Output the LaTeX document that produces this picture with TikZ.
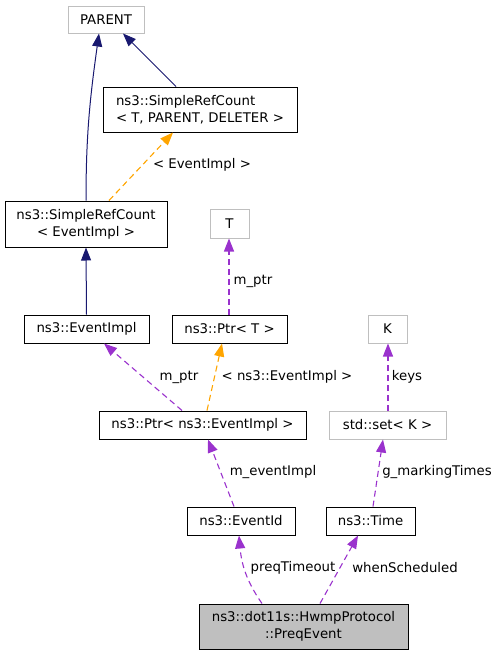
\documentclass[tikz,border=0pt]{standalone}
\usepackage{fontspec}
\setmainfont{DejaVu Sans}
\usetikzlibrary{arrows.meta,positioning}

\definecolor{inhblue}{HTML}{191970}
\definecolor{tmplorange}{HTML}{FFA500}
\definecolor{usepurple}{HTML}{9A32CD}
\definecolor{boxgray}{HTML}{BFBFBF}

\tikzset{
  cls/.style={draw=black, line width=1pt, inner sep=0pt, align=center,
    font=\fontsize{13.3}{17}\selectfont},
  extcls/.style={cls, draw=boxgray},
  lbl/.style={inner sep=0pt, font=\fontsize{13.3}{17}\selectfont},
  inherit/.style={draw=inhblue, line width=1pt,
    -{Triangle[length=13pt,width=10pt]}, inhblue},
  tmpl/.style={draw=tmplorange, line width=1.1pt, dash pattern=on 6pt off 4pt,
    -{Triangle[length=13pt,width=10pt]}, tmplorange},
  usage/.style={draw=usepurple, line width=1.1pt, dash pattern=on 6pt off 4pt,
    -{Triangle[length=13pt,width=10pt]}, usepurple},
}

\begin{document}
\begin{tikzpicture}[x=1pt,y=-1pt]
        \useasboundingbox (0,0) rectangle (497,656);
        % classes
        \node [extcls, minimum width=76, minimum height=27] (parent) at (106,19.5) {PARENT};
        \node [cls, align=left, minimum width=194, minimum height=45] (srcT) at (200,109.5) {ns3::SimpleRefCount\\< T, PARENT, DELETER >};
        \node [cls, minimum width=162, minimum height=46] (srcE) at (86,224) {ns3::SimpleRefCount\\< EventImpl >};
        \node [extcls, minimum width=39, minimum height=29] (tnode) at (229.5,223.5) {T};
        \node [cls, minimum width=125, minimum height=28] (evimpl) at (86.5,329) {ns3::EventImpl};
        \node [cls, minimum width=115, minimum height=28] (ptrT) at (229.5,329) {ns3::Ptr< T >};
        \node [extcls, minimum width=39, minimum height=28] (knode) at (387.5,329) {K};
        \node [cls, minimum width=207, minimum height=28] (ptrE) at (202.5,425) {ns3::Ptr< ns3::EventImpl >};
        \node [extcls, minimum width=117, minimum height=28] (setK) at (387.5,425) {std::set< K >};
        \node [cls, minimum width=108, minimum height=28] (evid) at (241,521) {ns3::EventId};
        \node [cls, minimum width=89, minimum height=28] (time) at (370.5,521) {ns3::Time};
        \node [cls, fill=boxgray, minimum width=209, minimum height=45] (preq) at (303.5,626.5) {ns3::dot11s::HwmpProtocol\\::PreqEvent};
        % inheritance
        \draw [inherit] (srcE.north) to[out=90,in=-98] ([xshift=-7]parent.south);
        \draw [inherit] ([xshift=-24]srcT.north) -- ([xshift=17]parent.south);
        \draw [inherit] (evimpl.north) -- (srcE.south);
        % template instances
        \draw [tmpl] ([xshift=23]srcE.north) -- ([xshift=-27]srcT.south);
        \node [lbl] (lblEI) at (202,165) {< EventImpl >};
        \draw [tmpl] ([xshift=4.5]ptrE.north) -- ([xshift=-7.5]ptrT.south);
        \node [lbl] (lblNsEI) at (287,377) {< ns3::EventImpl >};
        % members
        \draw [usage] ([xshift=-0.5]ptrT.north) -- ([xshift=-0.5]tnode.south);
        \node [lbl] (lblPtrT) at (253,281) {m\_ptr};
        \draw [usage] ([xshift=-20.5]ptrE.north) -- ([xshift=17.5]evimpl.south);
        \node [lbl] (lblPtrE) at (179,377) {m\_ptr};
        \draw [usage] ([xshift=0.5]setK.north) -- ([xshift=0.5]knode.south);
        \node [lbl] (lblKeys) at (407,377) {keys};
        \draw [usage] ([xshift=-7]evid.north) -- ([xshift=5.5]ptrE.south);
        \node [lbl] (lblImpl) at (273,472) {m\_eventImpl};
        \draw [usage] ([xshift=2.5]time.north) -- ([xshift=-4.5]setK.south);
        \node [lbl] (lblMark) at (437,472) {g\_markingTimes};
        \draw [usage] ([xshift=-41.5]preq.north) to[out=125,in=-85] ([xshift=-2]evid.south);
        \node [lbl] (lblTimeout) at (293,568) {preqTimeout};
        \draw [usage] ([xshift=16.5]preq.north) -- ([xshift=-12.5]time.south);
        \node [lbl] (lblSched) at (405,568) {whenScheduled};
    \end{tikzpicture}
\end{document}
